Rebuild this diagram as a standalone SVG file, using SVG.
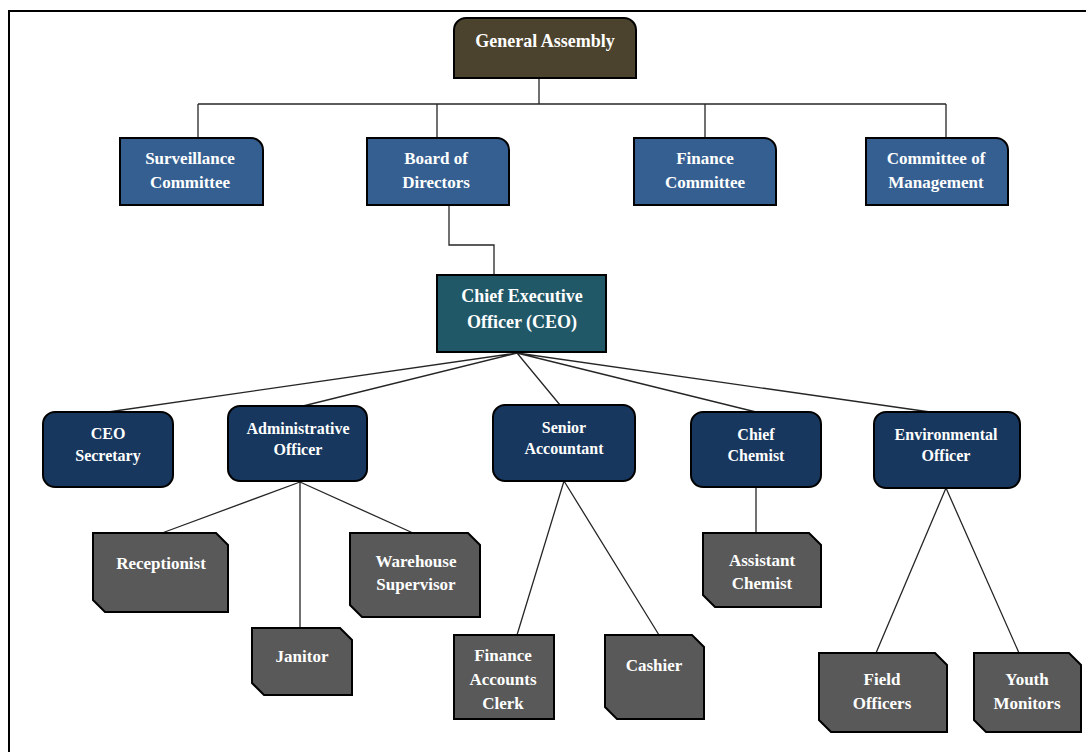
<svg xmlns="http://www.w3.org/2000/svg" width="1086" height="752" viewBox="0 0 1086 752">
  <style>
    .lbl { font-family: "Liberation Serif", "Times New Roman", serif; font-weight: bold; fill: #ffffff; text-anchor: middle; }
    .box { stroke: #000; stroke-width: 2; }
    .ga { fill: #4b432d; }
    .blue { fill: #365f91; }
    .ceo { fill: #215868; }
    .navy { fill: #17375e; }
    .gray { fill: #595959; }
    .wire { fill: none; stroke: #262626; stroke-width: 1.3; }
  </style>

  <rect x="0" y="0" width="1086" height="752" fill="#ffffff"/>
  <!-- page frame -->
  <path d="M9,752 V11 H1086" fill="none" stroke="#000" stroke-width="2"/>

  <g id="connectors">
    <path class="wire" d="M539,78 V104 M198,104 H946 M198,104 V138 M437,104 V138 M705,104 V138 M946,104 V138"/>
    <path class="wire" d="M449,205 V245 H494 V275"/>
    <path class="wire" d="M517,353 L108,412 M517,353 L303,406 M517,353 L560,405 M517,353 L756,412 M517,353 L930,412"/>
    <path class="wire" d="M300,482 L162,533 M300,482 V628 M300,482 L413,533"/>
    <path class="wire" d="M564,481 L517,635 M564,481 L659,635"/>
    <path class="wire" d="M756,488 V533"/>
    <path class="wire" d="M946,488 L876,653 M946,488 L1019,653"/>
  </g>

  <g id="general-assembly">
    <path class="box ga" d="M454,78 V30 A12,12 0 0 1 466,18 H624 A12,12 0 0 1 636,30 V78 Z"/>
    <text class="lbl" x="545" y="47" font-size="18">General Assembly</text>
  </g>

  <g id="surveillance-committee">
    <path class="box blue" d="M120,138 H251 A12,12 0 0 1 263,150 V205 H120 Z"/>
    <text class="lbl" x="190" y="164" font-size="17">Surveillance</text>
    <text class="lbl" x="190" y="188" font-size="17">Committee</text>
  </g>

  <g id="board-of-directors">
    <path class="box blue" d="M367,138 H497 A12,12 0 0 1 509,150 V205 H367 Z"/>
    <text class="lbl" x="436" y="164" font-size="17">Board of</text>
    <text class="lbl" x="436" y="188" font-size="17">Directors</text>
  </g>

  <g id="finance-committee">
    <path class="box blue" d="M634,138 H764 A12,12 0 0 1 776,150 V205 H634 Z"/>
    <text class="lbl" x="705" y="164" font-size="17">Finance</text>
    <text class="lbl" x="705" y="188" font-size="17">Committee</text>
  </g>

  <g id="committee-of-management">
    <path class="box blue" d="M866,138 H996 A12,12 0 0 1 1008,150 V205 H866 Z"/>
    <text class="lbl" x="936" y="164" font-size="17">Committee of</text>
    <text class="lbl" x="936" y="188" font-size="17">Management</text>
  </g>

  <g id="ceo">
    <rect class="box ceo" x="437" y="275" width="169" height="77"/>
    <text class="lbl" x="522" y="302" font-size="18">Chief Executive</text>
    <text class="lbl" x="522" y="328" font-size="18">Officer (CEO)</text>
  </g>

  <g id="ceo-secretary">
    <rect class="box navy" x="43" y="412" width="130" height="75" rx="12"/>
    <text class="lbl" x="108" y="439" font-size="16">CEO</text>
    <text class="lbl" x="108" y="461" font-size="16">Secretary</text>
  </g>

  <g id="administrative-officer">
    <rect class="box navy" x="228" y="406" width="139" height="75" rx="12"/>
    <text class="lbl" x="298" y="434" font-size="16">Administrative</text>
    <text class="lbl" x="298" y="455" font-size="16">Officer</text>
  </g>

  <g id="senior-accountant">
    <rect class="box navy" x="493" y="405" width="142" height="76" rx="12"/>
    <text class="lbl" x="564" y="433" font-size="16">Senior</text>
    <text class="lbl" x="564" y="454" font-size="16">Accountant</text>
  </g>

  <g id="chief-chemist">
    <rect class="box navy" x="691" y="412" width="130" height="75" rx="12"/>
    <text class="lbl" x="756" y="440" font-size="16">Chief</text>
    <text class="lbl" x="756" y="461" font-size="16">Chemist</text>
  </g>

  <g id="environmental-officer">
    <rect class="box navy" x="874" y="412" width="146" height="76" rx="12"/>
    <text class="lbl" x="946" y="440" font-size="16">Environmental</text>
    <text class="lbl" x="946" y="461" font-size="16">Officer</text>
  </g>

  <g id="receptionist">
    <path class="box gray" d="M93,533 H216 L228,545 V612 H105 L93,600 Z"/>
    <text class="lbl" x="161" y="569" font-size="17">Receptionist</text>
  </g>

  <g id="warehouse-supervisor">
    <path class="box gray" d="M350,533 H468 L480,545 V617 H362 L350,605 Z"/>
    <text class="lbl" x="416" y="567" font-size="17">Warehouse</text>
    <text class="lbl" x="416" y="590" font-size="17">Supervisor</text>
  </g>

  <g id="janitor">
    <path class="box gray" d="M252,628 H340 L352,640 V695 H264 L252,683 Z"/>
    <text class="lbl" x="302" y="662" font-size="17">Janitor</text>
  </g>

  <g id="finance-accounts-clerk">
    <path class="box gray" d="M454,635 H554 V719 H454 Z"/>
    <text class="lbl" x="503" y="661" font-size="17">Finance</text>
    <text class="lbl" x="503" y="685" font-size="17">Accounts</text>
    <text class="lbl" x="503" y="709" font-size="17">Clerk</text>
  </g>

  <g id="cashier">
    <path class="box gray" d="M605,635 H692 L704,647 V719 H617 L605,707 Z"/>
    <text class="lbl" x="654" y="671" font-size="17">Cashier</text>
  </g>

  <g id="assistant-chemist">
    <path class="box gray" d="M703,533 H809 L821,545 V607 H715 L703,595 Z"/>
    <text class="lbl" x="762" y="566" font-size="17">Assistant</text>
    <text class="lbl" x="762" y="589" font-size="17">Chemist</text>
  </g>

  <g id="field-officers">
    <path class="box gray" d="M819,653 H935 L947,665 V732 H831 L819,720 Z"/>
    <text class="lbl" x="882" y="685" font-size="17">Field</text>
    <text class="lbl" x="882" y="709" font-size="17">Officers</text>
  </g>

  <g id="youth-monitors">
    <path class="box gray" d="M974,653 H1069 L1081,665 V732 H986 L974,720 Z"/>
    <text class="lbl" x="1027" y="685" font-size="17">Youth</text>
    <text class="lbl" x="1027" y="709" font-size="17">Monitors</text>
  </g>
</svg>
